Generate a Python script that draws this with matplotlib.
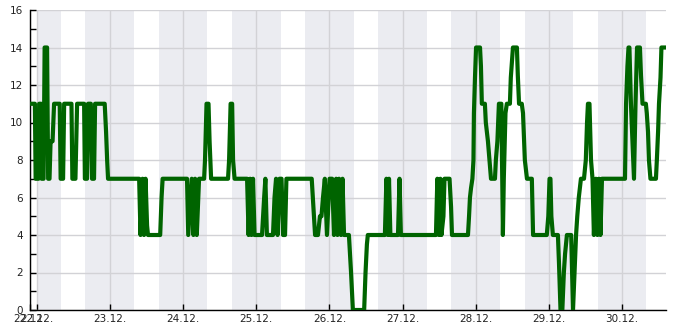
import matplotlib
matplotlib.use("Agg")
import matplotlib.pyplot as plt

# hours since 22.12. 00:00 and the value at that time
hours = [-2.2, -0.6, -0.35, 0.6, 0.8, 1.45, 1.6, 2.25, 2.6, 3.4, 3.75, 4.2, 4.55, 5.2,
         5.7, 7.55, 7.85, 8.65, 9.0, 11.4, 11.7, 12.7, 13.25, 15.55, 15.8, 16.5, 16.85,
         17.75, 18.15, 18.8, 19.15, 22.3, 22.75, 23.1, 23.4,
         33.6, 34.05, 34.7, 35.2, 35.7, 36.2, 36.5, 40.5, 40.95, 41.3,
         49.3, 49.7, 50.85, 51.4, 51.95, 52.5, 53.25, 54.9, 55.2, 55.7, 56.35, 56.7, 57.2,
         62.75, 63.1, 63.6, 64.1, 64.4, 64.9,
         69.0, 69.5, 70.0, 70.45, 70.95, 71.45, 73.9, 74.6, 75.0, 75.5, 77.5, 78.0, 78.5,
         79.0, 79.65, 80.3, 80.8, 81.45, 81.9, 90.2, 91.3, 92.25, 92.9, 93.4, 93.9, 94.5,
         95.2, 96.05, 96.9, 97.5, 98.2, 98.65, 99.15, 99.8, 100.3, 100.8, 102.4, 103.1,
         103.7, 107.4, 107.85, 108.3, 108.6,
         114.2, 114.7, 115.2, 115.55, 116.0, 118.5, 119.0, 119.45, 130.95, 131.4, 131.95,
         132.4, 132.75, 133.4, 133.75, 135.4, 135.9, 136.2, 141.45, 141.8, 142.1, 142.45,
         142.9, 143.25, 143.4, 143.75, 144.1, 145.4, 145.7, 146.0, 147.0, 147.3, 148.0,
         148.5, 149.0, 150.3, 150.6, 151.1, 151.6, 152.4, 152.9, 153.2, 153.75, 154.2,
         155.2, 155.5, 156.2, 157.5, 157.8, 158.2, 159.1, 159.5, 160.1, 160.8, 162.4,
         162.8, 167.3, 167.8, 168.2, 168.5, 168.8, 169.3, 170.95, 171.3, 171.8, 172.4,
         172.9, 173.3, 173.9, 175.3, 175.6, 175.9, 176.4, 176.9, 177.3, 177.8, 178.5,
         179.5, 180.1, 180.5, 180.8, 181.3, 181.8, 182.3, 182.75, 183.4, 183.9, 184.4,
         184.9, 185.4, 192.95, 193.3, 193.75, 194.1, 194.4, 194.9, 195.4, 195.9, 196.4,
         196.9, 197.85, 198.2, 198.7, 199.8, 200.1, 200.5, 200.8, 201.3, 203.1, 203.4,
         203.8, 204.1, 204.6, 204.9, 206.6]
values = [11, 11, 7, 7, 11, 11, 7, 7, 14, 14, 7, 7, 9, 9,
          11, 11, 7, 7, 11, 11, 7, 7, 11, 11, 7, 7, 11,
          11, 7, 7, 11, 11, 9.5, 8, 7,
          7, 4, 7, 4, 7, 4.5, 4, 4, 6, 7,
          7, 4, 7, 4, 7, 4, 7, 7, 8, 11, 11, 9, 7,
          7, 8, 11, 11, 8, 7,
          7, 4, 7, 4, 7, 4, 4, 6, 7, 4, 4, 6, 7,
          4, 7, 7, 4, 4, 7, 7, 4, 4, 5, 5, 6, 7,
          4, 7, 7, 4, 7, 4, 7, 4, 7, 4, 4, 2,
          0, 0, 2, 3.5, 4,
          4, 7, 4, 7, 4, 4, 7, 4, 4, 7, 4,
          7, 4, 5, 7, 7, 5.5, 4, 4, 5, 6, 6.5,
          7, 8, 10.5, 12.4, 14, 14, 13, 11, 11, 10, 9,
          8, 7, 7, 8, 9, 11, 11, 4, 7, 10.5, 11,
          11, 12.4, 14, 14, 12.5, 11, 11, 10.5, 8, 7, 7,
          4, 4, 5, 7, 7, 5, 4, 4, 2.5, 0, 0,
          2, 3, 4, 4, 2, 0, 2, 4, 5, 6, 7,
          7, 8, 10, 11, 11, 8, 7, 4, 7, 4, 7,
          4, 7, 7, 11, 13, 14, 14, 11, 9, 7, 11,
          14, 14, 12.5, 11, 11, 10.5, 9.5, 8, 7, 7, 8,
          9.5, 11, 12.4, 14, 14]

day_labels = ["22.12.", "23.12.", "24.12.", "25.12.", "26.12.",
              "27.12.", "28.12.", "29.12.", "30.12."]

x_min, x_max = -2.2, 206.4

fig = plt.figure(figsize=(6.85, 3.3), dpi=100)
ax = fig.add_axes([30 / 685, 20 / 330, 636 / 685, 300 / 330])

# night shading
for d in range(len(day_labels)):
    ax.axvspan(d * 24, d * 24 + 8, color="#ebecf1", lw=0, zorder=0)
    ax.axvspan(d * 24 + 16, d * 24 + 24, color="#ebecf1", lw=0, zorder=0)

ax.plot(hours, values, color="#006400", lw=3, zorder=3)

ax.set_xlim(x_min, x_max)
ax.set_ylim(0, 16)

day_ticks = [d * 24 for d in range(len(day_labels))]
ax.set_xticks([x_min] + day_ticks)
ax.set_xticklabels([day_labels[0]] + day_labels)
ax.set_yticks(range(0, 17, 2))
ax.set_yticks(range(0, 17), minor=True)

ax.grid(True, which="major", color="#d2d2d6", lw=1)
ax.set_axisbelow(True)

ax.tick_params(which="both", direction="in", length=4.5, width=1, color="black",
               labelsize=7.5, labelcolor="#222222")
ax.tick_params(axis="y", pad=5)
ax.tick_params(axis="x", pad=3)

for s in ["top", "right"]:
    ax.spines[s].set_visible(False)
for s in ["left", "bottom"]:
    ax.spines[s].set_linewidth(1)

fig.savefig("out.png", dpi=100)
